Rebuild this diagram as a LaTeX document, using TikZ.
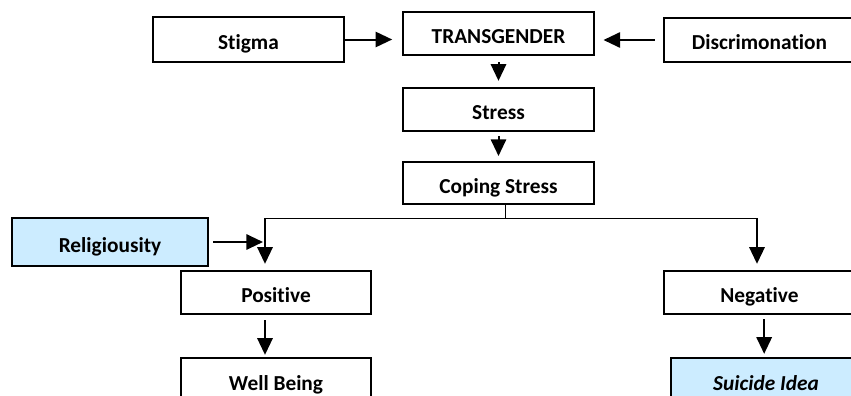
\documentclass[tikz,border=0pt]{standalone}
\usepackage{fontspec}
\setmainfont{Carlito}[Ligatures=NoCommon]
\usetikzlibrary{arrows.meta}
\definecolor{paleblue}{HTML}{CCECFF}
\tikzset{
  box/.style={draw, line width=1.5pt, minimum width=143pt, minimum height=32.5pt,
    text height=15pt, text depth=0pt, font=\fontsize{16}{18}\selectfont\bfseries},
  arr/.style={line width=1.5pt, -{Triangle[length=12.5pt,width=11.5pt]}},
  branch/.style={line width=0.75pt},
}

\begin{document}
\begin{tikzpicture}[x=0.75pt,y=-0.75pt]
      \path[use as bounding box, clip] (0,0) rectangle (851,396);
      % top row
      \node[box, minimum height=33.75pt] (stigma) at (248.5,39.5) {Stigma};
      \node[box] (tg) at (498.5,33.5) {TRANSGENDER};
      \node[box, minimum height=33pt] (disc) at (759.5,40) {Discrimonation};
      \node[box] (stress) at (498.5,109.5) {Stress};
      \node[box, minimum height=31.5pt] (coping) at (498.5,183) {Coping Stress};
      % branches
      \node[box, fill=paleblue, minimum width=147pt, minimum height=36pt] (rel) at (110,242) {Religiousity};
      \node[box, minimum width=142.5pt] (pos) at (276,292.5) {Positive};
      \node[box] (neg) at (759.5,292.5) {Negative};
      \node[box, minimum width=142.5pt, minimum height=34pt] (wb) at (276,380.5) {Well Being};
      \node[box, fill=paleblue, minimum width=142.5pt, minimum height=34pt,
        font=\fontsize{16}{18}\selectfont\bfseries\itshape] (sui) at (766,380.5) {Suicide Idea};
      \coordinate (lt) at (265,218);
      \coordinate (rt) at (757,218);
      \draw[arr, shorten >=7.5pt] (stigma.east) -- (stigma.east -| tg.west);
      \draw[arr, shorten <=6.5pt, shorten >=6.5pt] (disc.west) -- (disc.west -| tg.east);
      \draw[arr, shorten <=4.5pt, shorten >=4.5pt] (tg.south) -- (stress.north);
      \draw[arr, shorten <=3pt, shorten >=3.75pt] (stress.south) -- (coping.north);
      \draw[branch] ([xshift=5.5pt]coping.south) -- ([xshift=5.5pt]coping.south |- lt) -- (rt);
      \draw[branch] ([xshift=5.5pt]coping.south |- lt) -- (lt);
      \draw[arr, shorten >=4.5pt] (lt) -- (lt |- pos.north);
      \draw[arr, shorten >=4.5pt] (rt) -- (rt |- neg.north);
      \draw[arr, shorten <=3pt, shorten >=1.5pt] (rel.east) -- (rel.east -| lt);
      \draw[arr, shorten <=3.75pt, shorten >=1.5pt] (pos.south -| lt) -- (wb.north -| lt);
      \draw[arr, shorten <=3pt, shorten >=2.25pt] ([xshift=3.5pt]neg.south) -- ([xshift=3.5pt]neg.south |- sui.north);
    \end{tikzpicture}
\end{document}
